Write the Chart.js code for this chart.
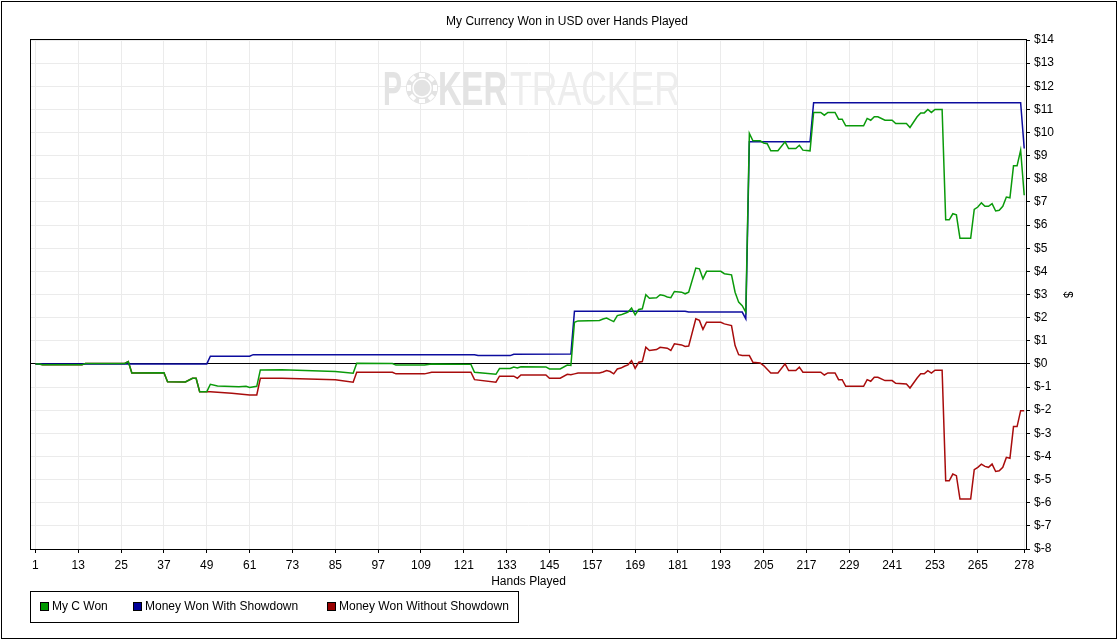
<!DOCTYPE html>
<html>
<head>
<meta charset="utf-8">
<title>My Currency Won in USD over Hands Played</title>
<script src="https://cdn.jsdelivr.net/npm/chart.js@4.4.1/dist/chart.umd.min.js"></script>
<style>
  html, body { margin: 0; padding: 0; background: #fff; }
  #wrap { width: 1120px; height: 641px; }
</style>
</head>
<body>
<div id="wrap"><canvas id="myChart" width="1120" height="641"></canvas></div>
<script>
// x axis tick labels (hand numbers)
const handTicks = [1, 13, 25, 37, 49, 61, 73, 85, 97, 109, 121, 133, 145, 157, 169, 181, 193, 205, 217, 229, 241, 253, 265, 278];

// My C Won: hand number / running total where the line changes direction
const wonHands = [1, 2, 3, 14, 15, 26, 27, 28, 37, 38, 43, 45, 46, 47, 49, 50, 52, 58, 60, 61, 63, 64, 70, 85, 90, 91, 101, 102, 110, 112,
  123, 124, 130, 131, 134, 135, 136, 137, 144, 145, 148, 150, 151, 152, 153, 159, 160, 161, 162, 163, 164, 165, 166, 167, 168, 169, 170, 171,
  172, 173, 175, 176, 177, 178, 179, 180, 182, 183, 184, 186, 187, 188, 189, 193, 194, 196, 197, 198, 199, 200, 201, 202, 204, 205, 206, 207,
  209, 211, 212, 214, 215, 216, 218, 219, 221, 222, 223, 225, 226, 227, 228, 233, 234, 235, 236, 237, 239, 241, 242, 245, 246, 248, 249, 250,
  251, 252, 253, 255, 256, 257, 258, 259, 260, 263, 264, 265, 266, 267, 268, 269, 270, 271, 272, 273, 274, 275, 276, 277, 278];
const wonValues = [0, 0, -0.04, -0.04, 0.02, 0.02, 0.10, -0.39, -0.38, -0.77, -0.78, -0.62, -0.62, -1.20, -1.20, -0.88, -0.95, -0.99, -0.97, -1.02, -0.97, -0.26, -0.25, -0.33, -0.40, 0.03, 0.02, -0.05, -0.05, 0.00,
  -0.02, -0.36, -0.45, -0.20, -0.20, -0.14, -0.18, -0.12, -0.13, -0.22, -0.22, -0.05, -0.07, 1.80, 1.86, 1.88, 1.94, 1.98, 1.90, 1.83, 2.09, 2.12, 2.18, 2.24, 2.41, 2.12, 2.35, 2.38,
  2.99, 2.84, 2.86, 2.99, 2.96, 2.89, 2.86, 3.13, 3.10, 3.03, 3.10, 4.14, 4.11, 3.68, 4.00, 4.00, 3.90, 3.85, 3.10, 2.67, 2.52, 2.24, 9.96, 9.64, 9.64, 9.55, 9.52, 9.21,
  9.21, 9.60, 9.31, 9.31, 9.45, 9.24, 9.21, 10.87, 10.87, 10.75, 10.87, 10.87, 10.58, 10.58, 10.29, 10.29, 10.61, 10.53, 10.68, 10.68, 10.53, 10.53, 10.39, 10.39, 10.22, 10.68, 10.85, 10.85,
  11.00, 10.87, 11.00, 11.00, 6.23, 6.23, 6.49, 6.44, 5.43, 5.43, 6.68, 6.78, 6.96, 6.81, 6.81, 6.93, 6.61, 6.64, 6.81, 7.21, 7.18, 8.56, 8.56, 9.24, 7.29];

// Money Won With Showdown
const sdHands = [1, 49, 50, 61, 62, 124, 125, 134, 135, 151, 152, 183, 184, 199, 200, 201, 218, 219, 277, 278];
const sdValues = [0, 0, 0.33, 0.33, 0.40, 0.40, 0.36, 0.36, 0.42, 0.43, 2.28, 2.28, 2.24, 2.24, 1.95, 9.60, 9.60, 11.29, 11.29, 9.31];

// Money Won Without Showdown
const nsdHands = [1, 2, 3, 14, 15, 26, 27, 28, 37, 38, 43, 45, 46, 47, 50, 56, 61, 63, 64, 70, 85, 90, 91, 101, 102, 110, 112, 123, 124, 130,
  131, 135, 136, 137, 144, 145, 148, 150, 151, 152, 153, 159, 160, 161, 162, 163, 164, 165, 166, 167, 168, 169, 170, 171, 172, 173, 175, 176,
  178, 179, 180, 182, 183, 184, 186, 187, 188, 189, 193, 194, 196, 197, 198, 199, 201, 202, 204, 205, 207, 209, 211, 212, 214, 215, 216, 221,
  222, 223, 225, 226, 227, 228, 233, 234, 235, 236, 237, 239, 241, 242, 245, 246, 248, 249, 250, 251, 252, 253, 255, 256, 257, 258, 259, 260,
  263, 264, 265, 266, 267, 268, 269, 270, 271, 272, 273, 274, 275, 276, 277, 278];
const nsdValues = [0, 0, -0.04, -0.04, 0.02, 0.02, 0.10, -0.39, -0.38, -0.77, -0.78, -0.62, -0.62, -1.20, -1.20, -1.27, -1.34, -1.34, -0.62, -0.62, -0.69, -0.79, -0.36, -0.36, -0.43, -0.43, -0.36, -0.36, -0.68, -0.79,
  -0.53, -0.53, -0.62, -0.48, -0.48, -0.62, -0.62, -0.45, -0.47, -0.43, -0.39, -0.39, -0.35, -0.29, -0.33, -0.43, -0.22, -0.18, -0.10, -0.04, 0.14, -0.19, 0.07, 0.10, 0.72, 0.58, 0.62, 0.72,
  0.68, 0.58, 0.87, 0.82, 0.75, 0.77, 1.95, 1.88, 1.49, 1.80, 1.80, 1.73, 1.66, 0.79, 0.40, 0.36, 0.36, 0.07, 0.04, -0.07, -0.39, -0.39, 0.00, -0.29, -0.29, -0.14, -0.36, -0.36,
  -0.48, -0.39, -0.39, -0.68, -0.68, -0.97, -0.97, -0.68, -0.75, -0.58, -0.58, -0.72, -0.72, -0.84, -0.87, -1.04, -0.61, -0.43, -0.43, -0.29, -0.40, -0.27, -0.27, -5.05, -5.05, -4.76, -4.83, -5.84,
  -5.84, -4.57, -4.47, -4.33, -4.43, -4.47, -4.33, -4.65, -4.62, -4.47, -4.04, -4.08, -2.71, -2.71, -2.02, -2.02];

const seriesNames = ["My C Won", "Money Won With Showdown", "Money Won Without Showdown"];
const seriesColors = ["#0a9a0a", "#0c0c9e", "#a80c0c"];
const legendColors = ["#009900", "#000099", "#990000"];

const FONT = "'Liberation Sans', Arial, sans-serif";
Chart.defaults.font.family = FONT;
Chart.defaults.font.size = 12;
Chart.defaults.color = "#000";

const toPoints = (hands, values) => hands.map((h, i) => ({ x: h, y: values[i] }));

function fitText(ctx, text, x, y, w) {
  const m = ctx.measureText(text).width;
  ctx.save();
  ctx.translate(x, y);
  ctx.scale(w / m, 1);
  ctx.fillText(text, 0, 0);
  ctx.restore();
}

const decorations = {
  id: "decorations",
  beforeDatasetsDraw(chart) {
    // faint PokerTracker watermark
    const ctx = chart.ctx;
    ctx.save();
    ctx.textBaseline = "alphabetic";
    ctx.textAlign = "left";
    ctx.fillStyle = "#e3e3e3";
    ctx.font = "bold 49px " + FONT;
    fitText(ctx, "P", 383, 105, 19);
    fitText(ctx, "KER", 438, 105, 69);
    // chip standing in for the O
    ctx.beginPath();
    ctx.arc(422, 88, 16, 0, Math.PI * 2);
    ctx.fill();
    ctx.fillStyle = "#fff";
    for (let i = 0; i < 8; i++) {
      const a = i * Math.PI / 4;
      ctx.save();
      ctx.translate(422 + Math.cos(a) * 13, 88 + Math.sin(a) * 13);
      ctx.rotate(a);
      ctx.fillRect(-2, -3, 4, 6);
      ctx.restore();
    }
    ctx.strokeStyle = "#fff";
    ctx.lineWidth = 1.5;
    ctx.beginPath();
    ctx.arc(422, 88, 9, 0, Math.PI * 2);
    ctx.stroke();
    ctx.fillStyle = "#ededed";
    ctx.font = "49px " + FONT;
    fitText(ctx, "TRACKER", 510, 105, 170);
    ctx.restore();
  },
  afterDraw(chart) {
    const ctx = chart.ctx;
    const a = chart.chartArea;
    ctx.save();
    ctx.strokeStyle = "#000";
    ctx.lineWidth = 1;
    // plot frame and outer frame
    ctx.strokeRect(Math.round(a.left) - 0.5, Math.round(a.top) - 0.5, Math.round(a.right - a.left) + 1, Math.round(a.bottom - a.top) + 1);
    ctx.strokeRect(1.5, 1.5, 1115, 637);
    // title
    ctx.fillStyle = "#000";
    ctx.font = "12px " + FONT;
    ctx.textAlign = "center";
    ctx.textBaseline = "middle";
    ctx.fillText("My Currency Won in USD over Hands Played", 567, 22);
    // legend box
    ctx.strokeRect(30.5, 591.5, 488, 31);
    const boxX = [40, 133, 327];
    ctx.textAlign = "left";
    chart.data.datasets.forEach((ds, i) => {
      ctx.fillStyle = legendColors[i];
      ctx.fillRect(boxX[i], 602, 9, 9);
      ctx.strokeRect(boxX[i] + 0.5, 602.5, 8, 8);
      ctx.fillStyle = "#000";
      ctx.fillText(ds.label, boxX[i] + 12, 607);
    });
    ctx.restore();
  }
};

const ctx = document.getElementById("myChart");

new Chart(ctx, {
  type: "line",
  data: {
    datasets: [
      { label: seriesNames[0], data: toPoints(wonHands, wonValues), borderColor: seriesColors[0], backgroundColor: legendColors[0] },
      { label: seriesNames[1], data: toPoints(sdHands, sdValues), borderColor: seriesColors[1], backgroundColor: legendColors[1] },
      { label: seriesNames[2], data: toPoints(nsdHands, nsdValues), borderColor: seriesColors[2], backgroundColor: legendColors[2] },
    ],
  },
  options: {
    responsive: false,
    animation: false,
    events: [],
    layout: { padding: { left: 31, top: 40, right: 0, bottom: 52 } },
    elements: {
      point: { radius: 0 },
      line: { borderWidth: 1.5, tension: 0, fill: false },
    },
    plugins: {
      legend: { display: false },
      title: { display: false },
      tooltip: { enabled: false },
    },
    scales: {
      x: {
        type: "linear",
        min: -0.25,
        max: 278.5,
        afterBuildTicks: (scale) => { scale.ticks = handTicks.map((v) => ({ value: v })); },
        afterFit: (scale) => { scale.height = 40; },
        ticks: { autoSkip: false, maxRotation: 0, padding: 5, color: "#000" },
        grid: { color: "#ebebeb", tickColor: "#000", tickLength: 4 },
        border: { display: false },
        title: { display: true, text: "Hands Played", color: "#000", padding: { top: 0, bottom: 0 } },
      },
      y: {
        position: "right",
        min: -8,
        max: 14,
        afterFit: (scale) => { scale.width = 94; },
        ticks: { stepSize: 1, autoSkip: false, padding: 4, color: "#000", callback: (v) => "$" + v },
        grid: {
          color: (c) => (c.tick && c.tick.value === 0 ? "#000" : "#ebebeb"),
          tickColor: "#000",
          tickLength: 4,
        },
        border: { display: false },
        title: { display: true, text: "$", color: "#000", padding: { top: 45, bottom: 0 } },
      },
    },
  },
  plugins: [decorations],
});
</script>
</body>
</html>
